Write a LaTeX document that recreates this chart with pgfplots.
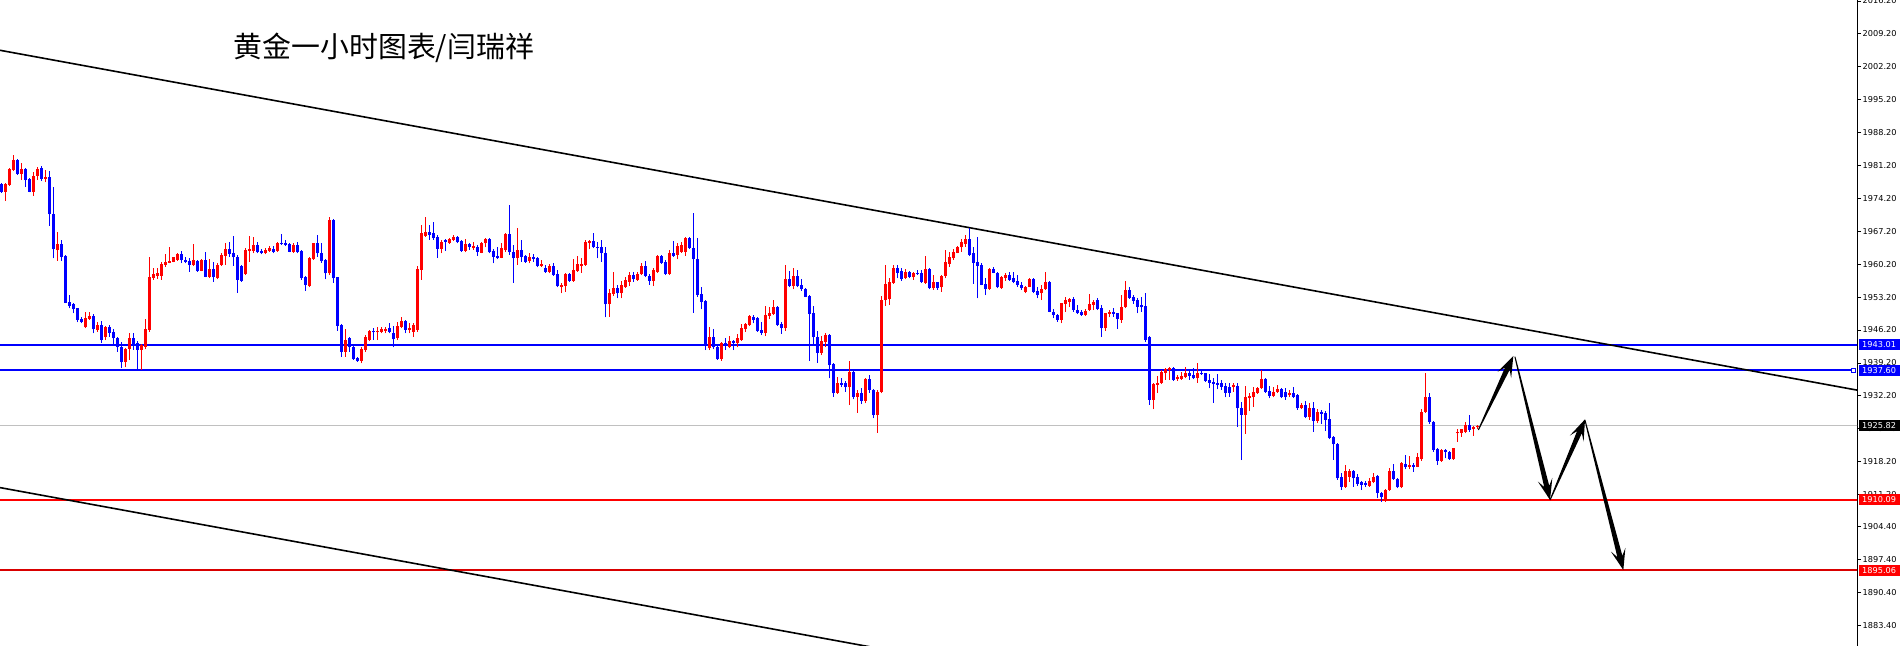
\documentclass[border=0pt]{standalone}
\usepackage{pgfplots}
\pgfplotsset{compat=1.18}
\usepackage{pgfplotstable}
\usepackage{fontspec}
\setmainfont{DejaVu Sans}
\newfontfamily\cjk{Noto Sans CJK SC}
\usetikzlibrary{calc}
\definecolor{mtblue}{RGB}{0,0,255}
\definecolor{mtred}{RGB}{255,0,0}
\definecolor{mtgrey}{RGB}{192,192,192}

% hourly candles: index, open, high, low, close
\pgfplotstableread{
i o h l c
0 1977.20 1977.40 1975.40 1975.60
1 1975.60 1977.55 1973.70 1977.30
2 1977.05 1980.60 1976.84 1980.46
3 1980.24 1983.44 1980.10 1982.40
4 1982.40 1982.50 1979.20 1979.40
5 1979.40 1981.70 1978.10 1980.46
6 1980.46 1980.60 1976.70 1978.10
7 1978.30 1978.50 1975.50 1975.60
8 1975.60 1979.90 1974.80 1979.00
9 1979.00 1980.95 1978.10 1980.46
10 1980.60 1981.10 1978.00 1978.30
11 1978.30 1980.24 1977.60 1978.70
12 1978.80 1980.10 1968.40 1970.80
13 1970.80 1976.70 1961.45 1963.40
14 1963.20 1967.10 1960.90 1964.60
15 1964.60 1965.35 1960.90 1961.80
16 1961.95 1962.20 1951.90 1952.00
17 1952.23 1953.65 1950.80 1951.30
18 1951.73 1952.00 1949.75 1950.60
19 1950.80 1950.95 1947.80 1948.33
20 1948.54 1949.04 1947.60 1948.00
21 1946.77 1949.96 1946.56 1948.83
22 1948.54 1949.96 1948.33 1949.25
23 1949.25 1949.54 1945.50 1946.34
24 1946.20 1948.00 1945.85 1947.27
25 1947.27 1948.20 1943.50 1944.07
26 1944.64 1947.05 1944.07 1946.90
27 1946.90 1947.27 1944.80 1945.63
28 1945.85 1946.40 1943.00 1944.43
29 1944.43 1944.64 1941.60 1942.50
30 1942.66 1943.72 1938.05 1939.30
31 1939.30 1942.30 1938.26 1942.16
32 1942.16 1945.63 1939.80 1944.43
33 1944.43 1945.63 1941.95 1943.00
34 1943.37 1943.93 1937.90 1941.95
35 1941.95 1943.22 1937.70 1943.00
36 1942.66 1948.47 1942.10 1946.40
37 1946.20 1961.66 1945.85 1957.55
38 1957.34 1959.30 1956.84 1958.05
39 1957.70 1959.30 1957.00 1958.26
40 1957.76 1960.67 1956.84 1960.24
41 1960.00 1962.40 1959.70 1960.74
42 1960.50 1963.93 1960.40 1960.90
43 1960.74 1961.80 1960.60 1961.66
44 1961.10 1962.50 1960.90 1962.30
45 1962.30 1963.08 1960.40 1961.00
46 1961.10 1961.66 1960.40 1960.74
47 1960.90 1961.45 1958.60 1960.00
48 1960.00 1964.43 1959.80 1961.10
49 1960.90 1961.10 1958.60 1958.80
50 1958.82 1961.24 1958.68 1961.09
51 1961.09 1962.87 1957.41 1957.55
52 1957.41 1961.24 1957.19 1959.18
53 1959.18 1960.74 1956.48 1957.41
54 1957.19 1960.40 1956.98 1960.03
55 1960.03 1962.51 1959.82 1962.16
56 1962.02 1964.78 1960.03 1963.36
57 1963.36 1964.99 1961.80 1962.37
58 1962.66 1966.20 1959.82 1961.66
59 1961.66 1962.16 1954.14 1956.84
60 1959.89 1960.03 1956.48 1956.70
61 1958.12 1963.58 1957.90 1963.22
62 1963.08 1966.20 1960.74 1963.36
63 1963.08 1966.06 1962.51 1964.29
64 1964.29 1964.99 1962.51 1962.73
65 1963.08 1963.36 1962.30 1962.51
66 1962.51 1963.58 1962.30 1963.22
67 1963.08 1964.14 1962.87 1963.72
68 1963.43 1964.07 1962.51 1962.87
69 1963.08 1964.99 1962.87 1964.78
70 1964.78 1966.63 1964.29 1964.50
71 1964.78 1965.35 1964.07 1964.29
72 1964.50 1964.78 1962.73 1962.87
73 1962.87 1964.64 1962.66 1964.29
74 1964.29 1964.86 1962.51 1962.73
75 1963.01 1963.22 1956.84 1957.19
76 1957.55 1957.69 1954.57 1955.77
77 1955.56 1961.80 1955.28 1961.45
78 1961.24 1964.78 1961.09 1964.64
79 1964.64 1966.41 1961.80 1962.51
80 1962.66 1964.64 1960.53 1960.88
81 1961.09 1961.24 1956.98 1958.26
82 1958.26 1970.17 1957.90 1969.60
83 1969.60 1969.75 1956.27 1957.19
84 1957.41 1957.55 1946.06 1947.06
85 1947.26 1947.48 1940.53 1941.59
86 1941.59 1946.36 1940.53 1944.07
87 1944.43 1944.78 1941.59 1942.51
88 1942.66 1943.01 1939.82 1939.96
89 1940.17 1940.38 1939.46 1939.60
90 1939.60 1942.66 1939.11 1942.16
91 1941.95 1945.14 1941.59 1944.78
92 1944.07 1946.20 1943.93 1945.99
93 1945.99 1946.70 1944.07 1945.70
94 1945.70 1946.91 1944.07 1945.99
95 1945.85 1946.91 1945.49 1946.36
96 1945.99 1946.91 1945.49 1946.41
97 1946.56 1947.62 1945.49 1945.85
98 1945.63 1947.06 1942.51 1944.21
99 1944.43 1947.97 1944.07 1947.06
100 1946.91 1949.04 1946.56 1948.12
101 1948.12 1948.33 1945.49 1946.20
102 1946.20 1947.62 1945.49 1946.56
103 1945.85 1947.76 1944.79 1947.27
104 1946.20 1959.82 1945.85 1959.18
105 1958.97 1968.54 1956.84 1966.77
106 1966.20 1970.17 1966.06 1967.12
107 1967.12 1968.54 1965.35 1966.42
108 1966.77 1969.11 1965.35 1965.71
109 1966.06 1966.42 1961.59 1963.44
110 1963.44 1965.35 1962.51 1965.00
111 1965.21 1965.49 1963.01 1965.00
112 1964.79 1965.85 1964.50 1965.49
113 1965.35 1966.42 1965.21 1966.06
114 1966.06 1966.20 1964.64 1964.86
115 1965.21 1965.35 1962.87 1963.01
116 1963.01 1965.49 1962.73 1964.43
117 1964.43 1964.79 1963.22 1963.93
118 1963.58 1964.86 1963.22 1964.15
119 1963.93 1964.29 1962.02 1962.87
120 1962.66 1965.00 1962.51 1964.79
121 1964.64 1965.85 1963.79 1965.49
122 1965.49 1965.71 1962.51 1962.73
123 1963.08 1963.37 1960.39 1961.81
124 1962.02 1963.79 1961.31 1961.45
125 1961.59 1964.64 1961.45 1963.58
126 1963.22 1966.91 1962.87 1966.63
127 1966.63 1972.80 1962.16 1962.73
128 1962.87 1964.29 1956.27 1961.45
129 1961.45 1967.83 1960.03 1963.22
130 1963.22 1965.35 1960.74 1961.81
131 1962.02 1962.16 1960.53 1960.74
132 1960.95 1962.66 1960.39 1961.66
133 1961.66 1962.37 1960.74 1961.31
134 1961.45 1961.66 1959.54 1959.82
135 1959.82 1961.10 1959.68 1960.25
136 1959.32 1960.03 1958.40 1958.61
137 1958.61 1960.25 1958.26 1959.82
138 1959.82 1960.39 1957.69 1957.90
139 1958.12 1958.97 1955.28 1955.56
140 1955.42 1956.13 1954.00 1955.78
141 1955.56 1958.26 1954.36 1958.12
142 1958.12 1958.26 1956.49 1956.70
143 1956.70 1961.24 1956.49 1958.97
144 1958.83 1961.95 1958.61 1960.25
145 1959.82 1961.45 1958.40 1960.25
146 1960.03 1965.35 1959.82 1965.00
147 1964.79 1965.35 1963.37 1965.21
148 1965.21 1966.91 1963.58 1963.79
149 1963.93 1965.00 1961.45 1963.58
150 1963.93 1965.35 1960.74 1962.51
151 1962.66 1963.79 1948.90 1951.66
152 1951.66 1954.86 1949.04 1954.15
153 1953.86 1958.61 1953.44 1955.07
154 1955.21 1955.78 1952.94 1954.00
155 1954.00 1956.70 1952.94 1955.78
156 1955.42 1957.41 1955.21 1956.84
157 1956.49 1958.61 1955.56 1957.90
158 1957.90 1958.47 1956.49 1956.99
159 1956.84 1958.61 1956.70 1958.05
160 1958.05 1960.53 1957.90 1959.82
161 1959.82 1960.95 1957.41 1957.69
162 1957.69 1958.12 1955.78 1956.70
163 1956.70 1959.32 1955.56 1958.97
164 1958.61 1962.16 1958.40 1961.95
165 1961.95 1962.16 1960.25 1960.53
166 1960.74 1961.10 1957.90 1958.12
167 1958.12 1963.22 1957.90 1962.51
168 1962.51 1965.21 1961.81 1961.95
169 1962.16 1964.64 1961.24 1964.08
170 1962.87 1965.00 1962.66 1964.29
171 1962.87 1966.06 1961.95 1965.85
172 1965.85 1966.06 1963.37 1963.58
173 1963.58 1971.03 1949.89 1961.24
174 1961.24 1965.85 1953.29 1953.65
175 1953.86 1955.42 1950.60 1952.23
176 1952.37 1952.58 1941.94 1943.01
177 1942.30 1946.77 1941.94 1944.64
178 1944.64 1946.34 1942.09 1942.51
179 1942.51 1942.79 1939.82 1939.96
180 1939.96 1943.72 1939.67 1943.36
181 1943.50 1944.43 1941.94 1943.22
182 1942.51 1944.92 1942.30 1943.93
183 1943.93 1944.07 1941.94 1943.50
184 1943.36 1945.35 1942.51 1944.43
185 1944.07 1947.48 1943.93 1946.55
186 1946.34 1947.76 1945.84 1947.48
187 1947.26 1949.39 1947.05 1949.18
188 1949.04 1949.39 1947.62 1948.33
189 1948.68 1949.04 1945.84 1946.06
190 1946.20 1947.97 1945.13 1945.63
191 1945.63 1951.31 1944.92 1949.39
192 1949.18 1951.02 1948.47 1949.74
193 1949.60 1952.58 1949.39 1951.16
194 1951.16 1951.31 1947.05 1947.26
195 1947.48 1947.97 1945.35 1946.55
196 1946.55 1960.03 1946.06 1957.05
197 1956.98 1958.82 1955.28 1955.56
198 1955.56 1959.32 1954.85 1957.69
199 1957.69 1958.96 1955.28 1955.56
200 1955.77 1956.98 1954.57 1954.85
201 1954.92 1955.06 1953.15 1953.29
202 1953.43 1953.65 1939.67 1949.60
203 1949.89 1951.31 1943.22 1944.64
204 1944.78 1946.06 1939.25 1941.38
205 1941.38 1944.92 1940.88 1943.93
206 1943.72 1945.49 1942.65 1945.13
207 1945.13 1945.28 1935.92 1938.75
208 1938.96 1939.11 1932.01 1932.72
209 1932.87 1936.27 1932.58 1934.99
210 1934.85 1935.92 1934.00 1934.50
211 1934.85 1935.42 1933.08 1934.00
212 1934.00 1939.60 1930.24 1937.33
213 1937.33 1937.55 1931.45 1932.01
214 1932.01 1933.43 1928.61 1932.87
215 1932.87 1933.79 1930.45 1931.16
216 1931.16 1935.92 1930.60 1935.70
217 1935.70 1936.62 1932.87 1933.43
218 1933.43 1933.57 1927.40 1928.11
219 1928.11 1933.43 1924.35 1933.08
220 1933.08 1953.43 1932.72 1952.58
221 1952.58 1960.03 1951.31 1956.00
222 1952.72 1957.20 1951.52 1956.48
223 1956.27 1960.03 1955.99 1959.32
224 1959.32 1960.03 1957.19 1958.40
225 1958.82 1959.32 1956.69 1956.98
226 1957.19 1959.11 1956.98 1958.61
227 1958.61 1958.82 1957.19 1957.55
228 1957.40 1958.61 1956.84 1958.40
229 1958.25 1958.96 1957.90 1958.11
230 1958.25 1958.96 1956.27 1956.48
231 1956.27 1961.94 1955.99 1959.11
232 1959.11 1959.32 1954.85 1955.06
233 1955.06 1957.90 1954.71 1956.48
234 1956.48 1956.50 1954.71 1955.06
235 1955.28 1957.90 1954.35 1957.76
236 1957.69 1963.22 1957.19 1960.74
237 1960.24 1962.86 1959.67 1961.66
238 1961.45 1963.36 1961.09 1962.86
239 1962.65 1964.07 1962.51 1963.93
240 1963.79 1965.49 1962.86 1964.85
241 1964.50 1966.41 1963.93 1965.49
242 1965.49 1967.83 1961.94 1962.16
243 1962.51 1963.79 1955.99 1960.53
244 1960.74 1966.06 1952.94 1959.82
245 1960.03 1960.38 1955.70 1955.77
246 1955.99 1957.19 1953.64 1954.85
247 1954.85 1959.32 1954.71 1959.11
248 1959.11 1959.67 1958.25 1958.40
249 1958.40 1958.61 1955.06 1955.28
250 1955.06 1957.69 1954.92 1957.55
251 1957.19 1958.25 1956.69 1957.90
252 1957.90 1958.61 1956.69 1956.84
253 1957.19 1958.61 1956.13 1956.48
254 1956.69 1957.90 1955.42 1955.77
255 1955.77 1956.48 1954.71 1955.06
256 1954.35 1955.56 1954.00 1955.42
257 1955.42 1957.19 1955.28 1956.98
258 1956.98 1957.19 1954.00 1954.35
259 1954.57 1955.42 1952.94 1953.64
260 1954.00 1955.77 1952.58 1954.85
261 1954.85 1958.61 1954.71 1956.48
262 1956.48 1956.62 1949.96 1950.10
263 1950.10 1950.60 1948.68 1949.39
264 1949.39 1949.60 1947.97 1948.33
265 1948.33 1952.01 1947.62 1951.87
266 1951.73 1953.15 1950.10 1952.58
267 1952.23 1952.94 1951.16 1952.73
268 1952.73 1953.15 1950.10 1950.45
269 1950.45 1951.52 1949.60 1949.74
270 1950.10 1950.45 1949.18 1949.39
271 1949.39 1950.60 1949.18 1950.31
272 1950.45 1953.86 1950.31 1951.73
273 1951.52 1952.58 1950.45 1952.23
274 1952.58 1952.94 1950.45 1950.60
275 1950.81 1951.52 1944.79 1946.56
276 1946.56 1949.89 1946.06 1949.75
277 1949.61 1950.46 1948.90 1950.10
278 1950.10 1950.96 1949.04 1949.54
279 1949.75 1949.89 1946.42 1948.47
280 1948.33 1953.65 1947.76 1951.17
281 1951.03 1956.63 1950.81 1954.71
282 1954.71 1955.42 1952.80 1952.94
283 1953.30 1953.65 1951.74 1952.45
284 1952.59 1952.94 1949.75 1951.17
285 1951.52 1953.30 1950.10 1951.03
286 1951.31 1954.15 1943.72 1944.08
287 1944.79 1944.93 1930.25 1931.31
288 1931.31 1934.86 1929.32 1934.71
289 1934.50 1936.42 1932.87 1935.00
290 1934.86 1937.69 1934.71 1937.34
291 1937.13 1938.05 1935.57 1937.84
292 1937.69 1938.26 1935.57 1938.05
293 1938.05 1938.26 1935.42 1935.57
294 1935.71 1936.63 1935.42 1936.13
295 1935.71 1937.34 1935.57 1936.42
296 1936.13 1938.40 1935.92 1937.13
297 1937.13 1937.69 1935.57 1936.42
298 1936.63 1938.05 1935.71 1935.92
299 1935.92 1939.11 1935.00 1936.98
300 1937.13 1937.69 1936.63 1936.84
301 1936.98 1937.13 1935.21 1935.42
302 1935.57 1936.84 1933.79 1935.00
303 1935.21 1935.92 1930.74 1934.71
304 1934.86 1936.84 1933.58 1934.50
305 1934.86 1935.57 1933.44 1934.15
306 1934.29 1935.00 1931.88 1932.87
307 1934.15 1934.86 1932.02 1932.87
308 1934.01 1935.00 1933.08 1934.50
309 1934.29 1934.86 1925.64 1929.54
310 1929.54 1930.96 1918.54 1928.12
311 1928.12 1934.29 1924.08 1931.88
312 1931.67 1932.87 1929.04 1932.16
313 1931.88 1934.15 1929.89 1933.08
314 1932.87 1934.15 1932.59 1933.79
315 1933.79 1937.69 1933.58 1935.71
316 1935.71 1935.92 1932.87 1933.08
317 1933.30 1934.29 1931.67 1932.16
318 1932.16 1934.01 1931.88 1933.08
319 1933.08 1934.50 1932.87 1933.58
320 1933.58 1933.79 1931.67 1931.88
321 1933.08 1933.79 1931.31 1931.88
322 1932.37 1933.44 1931.88 1932.87
323 1932.87 1934.01 1931.67 1932.02
324 1932.37 1932.59 1929.18 1929.54
325 1929.54 1930.74 1929.33 1930.25
326 1930.25 1931.17 1927.41 1927.77
327 1927.77 1930.60 1927.06 1929.54
328 1929.54 1930.96 1924.57 1926.91
329 1926.91 1929.33 1926.35 1928.83
330 1928.83 1929.18 1926.21 1928.33
331 1928.62 1929.04 1924.79 1927.06
332 1927.20 1930.74 1922.95 1923.16
333 1923.37 1923.65 1918.55 1921.88
334 1921.95 1922.23 1914.29 1914.65
335 1915.00 1915.71 1912.16 1912.87
336 1912.87 1917.48 1912.66 1916.28
337 1915.00 1916.56 1913.94 1916.28
338 1916.28 1916.42 1912.87 1914.65
339 1915.00 1915.57 1913.01 1913.44
340 1913.94 1914.15 1912.16 1913.23
341 1913.72 1914.15 1912.87 1913.23
342 1913.01 1914.65 1912.87 1914.15
343 1913.94 1915.71 1913.58 1915.00
344 1915.14 1915.35 1910.39 1911.60
345 1911.60 1911.81 1909.68 1910.60
346 1909.89 1912.30 1909.68 1912.16
347 1912.16 1916.77 1912.02 1916.28
348 1916.28 1917.69 1914.29 1914.43
349 1914.43 1914.65 1912.52 1912.73
350 1912.73 1918.19 1912.52 1917.84
351 1917.69 1919.61 1916.56 1916.99
352 1917.13 1919.40 1916.56 1917.48
353 1917.48 1917.84 1916.06 1917.13
354 1917.13 1920.11 1916.99 1919.11
355 1918.69 1929.33 1918.40 1928.83
356 1928.83 1937.13 1928.62 1932.02
357 1932.02 1932.87 1926.21 1926.70
358 1926.70 1926.91 1920.32 1920.67
359 1920.82 1921.03 1917.48 1918.40
360 1918.40 1920.82 1918.19 1920.67
361 1920.67 1920.82 1918.90 1920.32
362 1920.32 1920.53 1918.55 1918.69
363 1918.69 1921.17 1918.55 1921.03
364 1924.22 1925.07 1922.45 1924.57
365 1924.36 1925.21 1923.51 1925.07
366 1924.57 1926.70 1924.22 1925.99
367 1925.99 1928.12 1924.57 1924.93
368 1925.07 1925.78 1923.65 1925.64
369 1925.50 1926.00 1925.20 1925.82
}\candles

% tapered arrow from #1 to #2 (axis coordinates)
\newcommand\mtarrow[2]{%
  \coordinate (A) at (axis cs:#1);
  \coordinate (B) at (axis cs:#2);
  \coordinate (N) at ($(B)!14bp!(A)$);
  \coordinate (C) at ($(B)!21bp!(A)$);
  \fill[black] ($(A)!0.5bp!90:(B)$) -- ($(N)!2.6bp!90:(B)$) -- ($(C)!7.5bp!90:(B)$)
    -- (B) -- ($(C)!7.5bp!-90:(B)$) -- ($(N)!2.6bp!-90:(B)$) -- ($(A)!0.5bp!-90:(B)$) -- cycle;
}

\pgfplotsset{
  wick/.style={draw=none, mark=none, forget plot,
    error bars/.cd, y dir=plus, y explicit, error mark=none,
    error bar style={draw=#1, line width=1bp}},
  body/.style={draw=none, mark=none, forget plot,
    error bars/.cd, y dir=plus, y explicit, error mark=none,
    error bar style={draw=#1, line width=3.2bp}},
}

\begin{document}
\begin{tikzpicture}
\begin{axis}[
  at={(0,0)}, anchor=south west,
  scale only axis, width=1857bp, height=646bp,
  xmin=-0.425, xmax=463.825, ymin=1878.97, ymax=2016.41,
  axis x line=none, axis y line*=right,
  y axis line style={line width=1bp, black},
  ytick={2016.2,2009.2,2002.2,1995.2,1988.2,1981.2,1974.2,1967.2,1960.2,1953.2,1946.2,1939.2,1932.2,1925.2,1918.2,1911.2,1904.4,1897.4,1890.4,1883.4},
  yticklabels={2016.20,2009.20,2002.20,1995.20,1988.20,1981.20,1974.20,1967.20,1960.20,1953.20,1946.20,1939.20,1932.20,1925.20,1918.20,1911.20,1904.40,1897.40,1890.40,1883.40},
  tick align=outside, major tick length=4bp,
  ytick style={black, line width=0.8bp},
  yticklabel style={font=\fontsize{8.2}{9}\selectfont, text=black, inner sep=1.5bp},
  clip mode=individual,
]
% level lines and channel
\addplot[mtgrey, line width=1bp] coordinates {(-1,1925.82) (470,1925.82)};
\addplot[mtblue, line width=2bp] coordinates {(-1,1943.01) (470,1943.01)};
\addplot[mtblue, line width=2bp] coordinates {(-1,1937.60) (462.9,1937.60)};
\addplot[mtred, line width=2bp] coordinates {(-1,1910.09) (470,1910.09)};
\addplot[mtred!85!black, line width=2bp] coordinates {(-1,1895.06) (470,1895.06)};
\addplot[black, line width=1.6bp] coordinates {(-0.425,2005.71) (463.825,1933.41)};
\addplot[black, line width=1.6bp] coordinates {(-0.425,1912.67) (249.6,1873.73)};

% bull candles
\addplot[wick=mtred] table[x=i, y=l, y error expr=\thisrow{h}-\thisrow{l},
    restrict expr to domain={\thisrow{c}-\thisrow{o}}{0:1000}] {\candles};
\addplot[body=mtred] table[x=i, y=o, y error expr={max(\thisrow{c}-\thisrow{o},0.25)},
    restrict expr to domain={\thisrow{c}-\thisrow{o}}{0:1000}] {\candles};
% bear candles
\addplot[wick=mtblue] table[x=i, y=l, y error expr=\thisrow{h}-\thisrow{l},
    restrict expr to domain={\thisrow{c}-\thisrow{o}}{-1000:-0.001}] {\candles};
\addplot[body=mtblue] table[x=i, y=c, y error expr={max(\thisrow{o}-\thisrow{c},0.25)},
    restrict expr to domain={\thisrow{c}-\thisrow{o}}{-1000:-0.001}] {\candles};

% forecast arrows
\mtarrow{369.15,1924.92}{377.9,1940.67}
\mtarrow{378.3,1940.52}{387.08,1910.03}
\mtarrow{387.08,1910.03}{395.83,1927.2}
\mtarrow{395.8,1927.05}{405.4,1895.14}

% price tags
\tikzset{tag/.style={anchor=west, text=white, inner xsep=3.5bp, inner ysep=0pt,
  minimum height=11bp, font=\fontsize{8.2}{9}\selectfont, xshift=1.5bp}}
\node[tag, fill=mtblue] at (axis cs:463.825,1943.01) {1943.01};
\node[tag, fill=mtblue] at (axis cs:463.825,1937.60) {1937.60};
\node[tag, fill=black] at (axis cs:463.825,1925.82) {1925.82};
\node[tag, fill=mtred] at (axis cs:463.825,1910.09) {1910.09};
\node[tag, fill=mtred] at (axis cs:463.825,1895.06) {1895.06};
\node[draw=mtblue, line width=1bp, minimum size=4bp, inner sep=0pt, fill=white] at (axis cs:462.95,1937.60) {};

\node[anchor=base west, inner sep=0pt, font=\cjk\fontsize{29}{34}\selectfont] at (axis cs:57.95,2004.1) {黄金一小时图表/闫瑞祥};
\end{axis}
\pgfresetboundingbox
\path[use as bounding box] (0,0) rectangle (1902bp,646bp);
\end{tikzpicture}
\end{document}
